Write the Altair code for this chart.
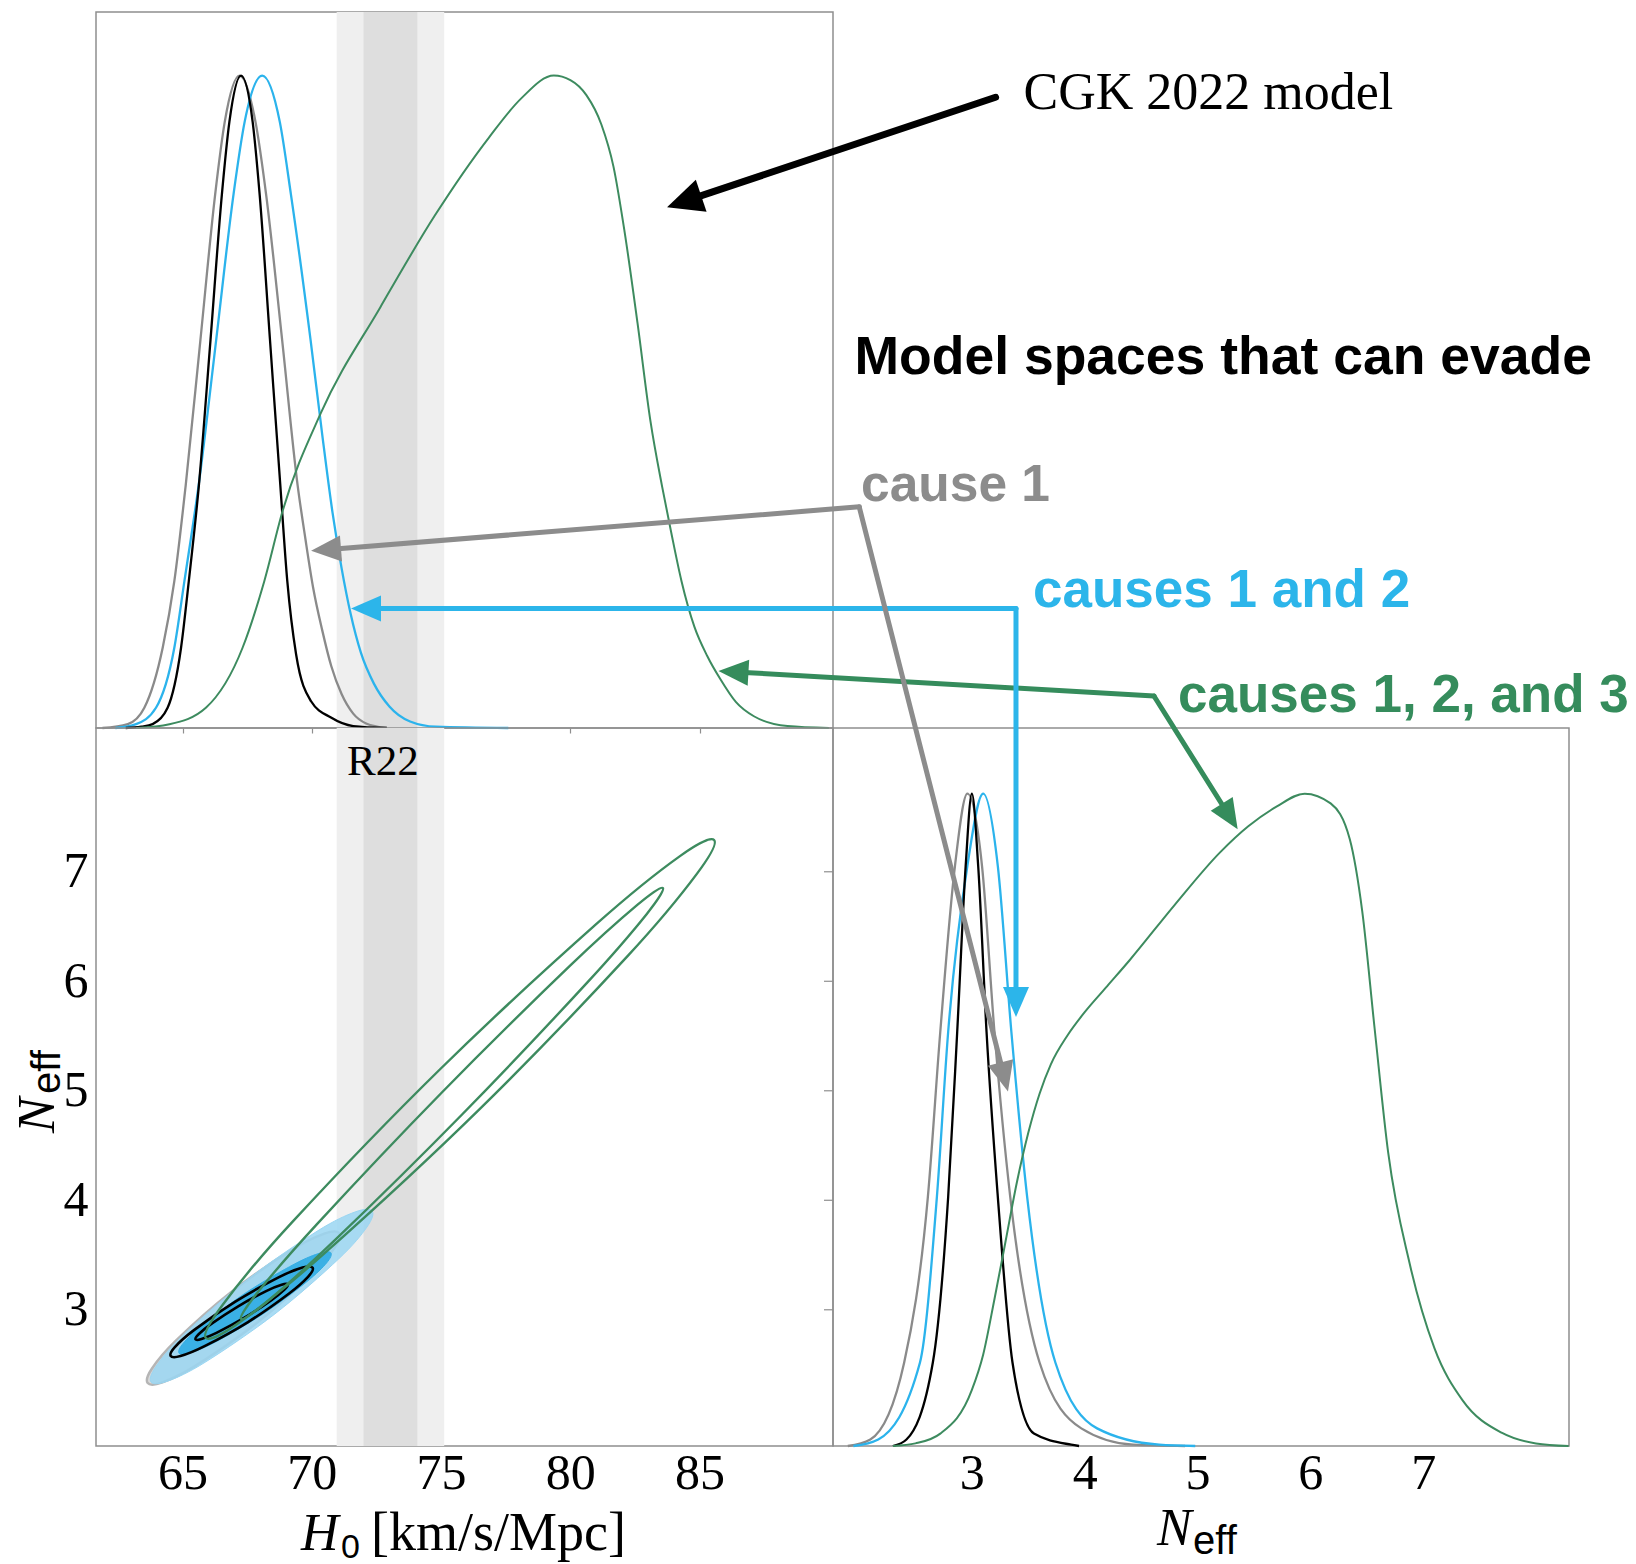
import math
import altair as alt
import pandas as pd

# ---------------- data ----------------
h0_ticks = [65, 70, 75, 80, 85]
neff_ticks = [3, 4, 5, 6, 7]
r22_outer = [70.96, 75.12]
r22_inner = [72.0, 74.08]
r22_label_h0 = 72.75

# 1D H0 posteriors (H0, relative density)
h0_gray_x = [61.9, 62.88, 63.52, 64.23, 64.68, 65.12, 65.69, 66.26, 66.63, 67.2, 67.82, 68.23, 68.85, 69.45, 69.75, 70.05, 70.4, 70.75, 71.15, 71.6, 72.1, 72.9]
h0_gray_y = [0.0, 0.006, 0.031, 0.123, 0.225, 0.372, 0.595, 0.818, 0.929, 1.0, 0.929, 0.818, 0.595, 0.372, 0.29, 0.215, 0.15, 0.095, 0.052, 0.022, 0.007, 0.0]
h0_blue_x = [62.4, 63.2, 63.97, 64.68, 65.07, 65.62, 66.3, 66.97, 67.4, 68.08, 68.76, 69.19, 69.95, 70.4, 70.8, 71.15, 71.5, 71.9, 72.4, 73.0, 73.8, 74.8, 77.6]
h0_blue_y = [0.0, 0.006, 0.031, 0.123, 0.225, 0.372, 0.595, 0.818, 0.929, 1.0, 0.929, 0.818, 0.595, 0.45, 0.33, 0.245, 0.175, 0.115, 0.068, 0.033, 0.01, 0.002, 0.0]
h0_black_x = [62.8, 63.4, 63.84, 64.42, 64.94, 65.24, 65.63, 66.08, 66.52, 66.81, 67.26, 67.71, 67.98, 68.38, 68.78, 69.05, 69.39, 69.97, 70.74, 71.6, 72.9]
h0_black_y = [0.0, 0.002, 0.006, 0.031, 0.123, 0.225, 0.372, 0.595, 0.818, 0.929, 1.0, 0.929, 0.818, 0.595, 0.372, 0.225, 0.113, 0.041, 0.016, 0.003, 0.0]
h0_green_x = [63.2, 64.49, 65.9, 67.32, 68.16, 68.88, 70.35, 72.65, 74.75, 76.85, 78.1, 79.36, 80.0, 80.62, 81.2, 81.67, 82.1, 82.6, 83.1, 83.55, 83.9, 84.3, 84.8, 85.3, 85.8, 86.4, 87.1, 88.4, 90.0]
h0_green_y = [0.0, 0.0057, 0.031, 0.123, 0.225, 0.334, 0.483, 0.645, 0.785, 0.905, 0.965, 1.0, 0.993, 0.97, 0.925, 0.86, 0.76, 0.62, 0.47, 0.37, 0.3, 0.225, 0.155, 0.11, 0.075, 0.04, 0.018, 0.003, 0.0]

# 1D Neff posteriors (Neff, relative density)
neff_gray_x = [1.9, 2.1, 2.40, 2.61, 2.72, 2.85, 2.96, 3.09, 3.2, 3.34, 3.6, 3.97, 4.43, 4.89]
neff_gray_y = [0.0, 0.01, 0.128, 0.382, 0.635, 0.889, 1.0, 0.889, 0.635, 0.382, 0.128, 0.027, 0.002, 0.0]
neff_blue_x = [1.95, 2.17, 2.54, 2.69, 2.79, 2.96, 3.10, 3.23, 3.35, 3.49, 3.74, 4.11, 4.66, 4.98]
neff_blue_y = [0.0, 0.01, 0.128, 0.382, 0.635, 0.889, 1.0, 0.889, 0.635, 0.382, 0.128, 0.027, 0.002, 0.0]
neff_black_x = [2.3, 2.42, 2.654, 2.79, 2.87, 2.945, 3.0, 3.056, 3.13, 3.23, 3.36, 3.55, 3.88, 3.95]
neff_black_y = [0.0, 0.01, 0.128, 0.382, 0.635, 0.889, 1.0, 0.889, 0.635, 0.382, 0.128, 0.019, 0.002, 0.0]
neff_green_x = [2.3, 2.5, 2.72, 3.0, 3.1, 3.2, 3.3, 3.4, 3.5, 3.6, 3.7, 3.85, 4.0, 4.2, 4.4, 4.8, 5.2, 5.45, 5.7, 5.95, 6.18, 6.35, 6.46, 6.57, 6.69, 6.88, 7.1, 7.35, 7.7, 8.0, 8.29]
neff_green_y = [0.0, 0.004, 0.019, 0.086, 0.14, 0.225, 0.315, 0.405, 0.48, 0.54, 0.585, 0.63, 0.665, 0.705, 0.745, 0.83, 0.91, 0.95, 0.98, 1.0, 0.985, 0.93, 0.82, 0.64, 0.45, 0.28, 0.15, 0.07, 0.02, 0.004, 0.0]

# 2D contours (H0, Neff) traced around each closed curve
gray95_h = [63.65, 63.81, 64.75, 66.87, 69.19, 70.48, 71.05, 70.89, 69.95, 67.83, 65.51, 64.22]
gray95_n = [2.331, 2.462, 2.720, 3.160, 3.542, 3.695, 3.701, 3.570, 3.312, 2.872, 2.490, 2.337]
blue95_h = [63.78, 63.98, 65.07, 67.53, 70.20, 71.67, 72.33, 72.13, 71.03, 68.57, 65.90, 64.43]
blue95_n = [2.340, 2.487, 2.779, 3.280, 3.717, 3.893, 3.902, 3.755, 3.463, 2.962, 2.525, 2.349]
blue68_h = [64.86, 65.03, 65.81, 67.51, 69.33, 70.32, 70.74, 70.57, 69.79, 68.09, 66.27, 65.28]
blue68_n = [2.605, 2.696, 2.870, 3.165, 3.418, 3.518, 3.519, 3.428, 3.254, 2.959, 2.706, 2.606]
black95_h = [64.54, 64.70, 65.44, 67.04, 68.73, 69.64, 70.03, 69.86, 69.12, 67.53, 65.83, 64.92]
black95_n = [2.578, 2.659, 2.814, 3.074, 3.298, 3.385, 3.384, 3.303, 3.149, 2.888, 2.665, 2.577]
black68_h = [65.50, 65.62, 66.11, 67.15, 68.25, 68.83, 69.07, 68.94, 68.45, 67.41, 66.31, 65.73]
black68_n = [2.730, 2.777, 2.871, 3.032, 3.173, 3.229, 3.232, 3.185, 3.091, 2.930, 2.789, 2.733]
green95_h = [65.90, 66.56, 69.23, 74.97, 81.02, 84.24, 85.56, 84.90, 82.23, 76.49, 70.44, 67.22]
green95_n = [2.742, 3.049, 3.798, 5.199, 6.526, 7.143, 7.290, 6.983, 6.234, 4.833, 3.506, 2.889]
green68_h = [67.26, 67.89, 70.19, 75.01, 79.99, 82.59, 83.58, 82.95, 80.65, 75.83, 70.85, 68.25]
green68_n = [2.916, 3.155, 3.780, 4.980, 6.142, 6.697, 6.852, 6.613, 5.988, 4.788, 3.626, 3.071]

# annotation arrows: (start, tip) in the data units of the panel they point into
arrows_top = {
    "black": ((96.45, 0.9667), (83.74, 0.7983)),
    "gray": ((91.18, 0.339), (69.97, 0.2715)),
    "blue": ((97.24, 0.1833), (71.515, 0.1833)),
    "green": ((102.58, 0.0491), (85.73, 0.0874)),
}
arrows_right = {
    "gray": ((2.0018, 1.4393), (3.32, 0.5434)),
    "blue": ((3.391, 1.2837), (3.391, 0.6576)),
    "green": ((4.614, 1.1496), (5.356, 0.9453)),
}

# ---------------- styling ----------------
C_GRAY, C_BLUE, C_BLACK, C_GREEN = "#8a8a8a", "#2bb3ec", "#000000", "#3d8b5f"
A_GRAY, A_BLUE, A_GREEN = "#8c8c8c", "#2cb5ea", "#358c5c"
SERIF, SANS = "Liberation Serif", "Liberation Sans"
BORDER = "#8f8f8f"

W_L, W_R = 737, 736
H_T, H_B = 716, 718
H0_DOM = [61.65, 90.16]
NY_DOM = [1.756, 8.313]
NX_DOM = [1.769, 8.293]
DT_DOM = [0, 1.0974]
DB_DOM = [0, 1.1006]


def sc(dom):
    return alt.Scale(domain=dom, nice=False, zero=False)


AX_NONE_KW = dict(grid=False, title=None)

TL_X = lambda: alt.X("x:Q", scale=sc(H0_DOM), axis=alt.Axis(values=h0_ticks, labels=False, ticks=True, tickSize=5,
                                                           tickColor=BORDER, tickWidth=1.2, domain=False, **AX_NONE_KW))
TL_Y = lambda: alt.Y("y:Q", scale=sc(DT_DOM), axis=None)
LAB = dict(labelFont=SERIF, labelFontSize=50, labelColor="black", ticks=False, domain=False, format="d", **AX_NONE_KW)
BL_X = lambda: alt.X("x:Q", scale=sc(H0_DOM), axis=alt.Axis(values=h0_ticks, labelPadding=2, **LAB))
BL_Y = lambda: alt.Y("y:Q", scale=sc(NY_DOM), axis=alt.Axis(values=neff_ticks, labelPadding=8, **LAB))
BR_X = lambda: alt.X("x:Q", scale=sc(NX_DOM), axis=alt.Axis(values=neff_ticks, labelPadding=2, **LAB))
BR_Y = lambda: alt.Y("y:Q", scale=sc(DB_DOM), axis=None)

one = pd.DataFrame({"a": [0]})


def curve(xs, ys, color, X, Y, sw=2.3):
    df = pd.DataFrame({"x": xs, "y": ys})
    return alt.Chart(df).mark_line(color=color, strokeWidth=sw, interpolate="monotone").encode(x=X(), y=Y())


HEAD = "M0,0L0.433,1L-0.433,1Z"
HEAD_K = "M0,0L0.47,1L-0.47,1Z"


def arrow(p0, p1, color, sw, head_len, head_path, X, Y, xdom, ydom, W, H):
    sx = W / (xdom[1] - xdom[0])
    sy = H / (ydom[1] - ydom[0])
    dx = (p1[0] - p0[0]) * sx
    dy = -(p1[1] - p0[1]) * sy
    L = math.hypot(dx, dy)
    ang = math.degrees(math.atan2(dx, -dy)) % 360
    f = max(0.0, (L - 0.7 * head_len) / L)
    pe = (p0[0] + (p1[0] - p0[0]) * f, p0[1] + (p1[1] - p0[1]) * f)
    line = alt.Chart(pd.DataFrame({"x": [p0[0], pe[0]], "y": [p0[1], pe[1]], "o": [0, 1]})).mark_line(
        color=color, strokeWidth=sw, strokeCap="round").encode(x=X(), y=Y(), order="o:Q")
    head = alt.Chart(pd.DataFrame({"x": [p1[0]], "y": [p1[1]], "a": [ang]})).mark_point(
        shape=head_path, size=(2 * head_len) ** 2, filled=True, fill=color, opacity=1, fillOpacity=1,
        strokeWidth=0).encode(x=X(), y=Y(), angle=alt.Angle("a:Q", scale=None))
    return [line, head]


def bands(X, H):
    df = pd.DataFrame({"x": [r22_outer[0], r22_inner[0]], "x2": [r22_outer[1], r22_inner[1]],
                       "c": ["#efefef", "#dedede"]})
    return alt.Chart(df).mark_rect().encode(x=X(), x2="x2:Q", y=alt.value(0), y2=alt.value(H),
                                            color=alt.Color("c:N", scale=None))


def contour(hs, ns, stroke, sw, fill=None, fo=1.0, so=1.0):
    df = pd.DataFrame({"x": hs, "y": ns, "o": list(range(len(hs)))})
    kw = dict(interpolate="cardinal-closed", stroke=stroke, strokeWidth=sw, strokeOpacity=so)
    if fill:
        kw.update(fill=fill, fillOpacity=fo)
    return alt.Chart(df).mark_line(**kw).encode(x=BL_X(), y=BL_Y(), order="o:Q")


def label(text, x, y, font, size, color="black", weight="normal", style="normal", angle=0):
    kw = dict(text=text, font=font, fontSize=size, color=color, fontWeight=weight, fontStyle=style,
              align="left", baseline="alphabetic")
    if angle:
        kw["angle"] = angle
    return alt.Chart(one).mark_text(**kw).encode(x=alt.value(x), y=alt.value(y))


# ---------------- top-left: H0 1D ----------------
tl_layers = [bands(TL_X, H_T),
             curve(h0_gray_x, h0_gray_y, C_GRAY, TL_X, TL_Y),
             curve(h0_blue_x, h0_blue_y, C_BLUE, TL_X, TL_Y),
             curve(h0_black_x, h0_black_y, C_BLACK, TL_X, TL_Y),
             curve(h0_green_x, h0_green_y, C_GREEN, TL_X, TL_Y, sw=2.0)]
for key, col, sw, hl, hp in [("gray", A_GRAY, 5, 30, HEAD), ("blue", A_BLUE, 5, 30, HEAD),
                             ("green", A_GREEN, 5, 30, HEAD), ("black", "#000000", 7, 36, HEAD_K)]:
    p0, p1 = arrows_top[key]
    tl_layers += arrow(p0, p1, col, sw, hl, hp, TL_X, TL_Y, H0_DOM, DT_DOM, W_L, H_T)
tl = alt.layer(*tl_layers).properties(width=W_L, height=H_T)

# ---------------- top-right: annotation text ----------------
tr = alt.layer(
    label("CGK 2022 model", 190.5, 96.5, SERIF, 52),
    label("Model spaces that can evade", 21.5, 361.5, SANS, 53.5, weight="bold"),
    label("cause 1", 28, 489, SANS, 51.5, color=A_GRAY, weight="bold"),
    label("causes 1 and 2", 200, 595, SANS, 53, color=A_BLUE, weight="bold"),
    label("causes 1, 2, and 3", 345, 699.5, SANS, 53, color=A_GREEN, weight="bold"),
).properties(width=W_R, height=H_T, view=alt.ViewBackground(stroke="transparent"))

# ---------------- bottom-left: 2D contours ----------------
tick_df = pd.DataFrame({"y": neff_ticks})
bl = alt.layer(
    bands(BL_X, H_B),
    contour(gray95_h, gray95_n, "#b5b5b5", 2.5, fill="#d6d6d6", fo=0.9),
    contour(blue95_h, blue95_n, "#9ad6f2", 1.0, fill="#9ad6f2", fo=0.85),
    contour(blue68_h, blue68_n, "#35aee4", 1.0, fill="#35aee4", fo=0.95),
    contour(black95_h, black95_n, "#000000", 2.6),
    contour(black68_h, black68_n, "#000000", 2.6),
    contour(green95_h, green95_n, C_GREEN, 2.4),
    contour(green68_h, green68_n, C_GREEN, 2.4),
    alt.Chart(tick_df).mark_rule(color=BORDER, strokeWidth=1.2).encode(y=BL_Y(), x=alt.value(W_L - 9), x2=alt.value(W_L)),
    alt.Chart(pd.DataFrame({"x": [r22_label_h0]})).mark_text(
        text="R22", font=SERIF, fontSize=43, color="black", align="center", baseline="alphabetic").encode(
        x=BL_X(), y=alt.value(47)),
    label("H", 205, 822, SERIF, 52, style="italic"),
    label("0", 245, 830, SANS, 34),
    label("[km/s/Mpc]", 275, 822, SERIF, 54),
    label("N", -42, 405, SERIF, 53, style="italic", angle=270),
    label("eff", -36, 366, SANS, 40, angle=270),
    alt.Chart(one).mark_rule(strokeOpacity=0, strokeWidth=1).encode(x=alt.value(-95), x2=alt.value(-94),
                                                                       y=alt.value(0), y2=alt.value(1)),
).properties(width=W_L, height=H_B)

# ---------------- bottom-right: Neff 1D ----------------
br_layers = [curve(neff_gray_x, neff_gray_y, C_GRAY, BR_X, BR_Y),
             curve(neff_blue_x, neff_blue_y, C_BLUE, BR_X, BR_Y),
             curve(neff_black_x, neff_black_y, C_BLACK, BR_X, BR_Y),
             curve(neff_green_x, neff_green_y, C_GREEN, BR_X, BR_Y, sw=2.0)]
for key, col in [("gray", A_GRAY), ("blue", A_BLUE), ("green", A_GREEN)]:
    p0, p1 = arrows_right[key]
    br_layers += arrow(p0, p1, col, 5, 30, HEAD, BR_X, BR_Y, NX_DOM, DB_DOM, W_R, H_B)
br_layers += [label("N", 324, 817, SERIF, 52, style="italic"), label("eff", 360, 826, SANS, 40)]
br = alt.layer(*br_layers).properties(width=W_R, height=H_B)

chart = alt.concat(tl, tr, bl, br, columns=2, spacing=0, bounds="flush").properties(
    padding={"left": 0, "top": 11, "right": 0, "bottom": 0},
).configure(background="white").configure_view(stroke=BORDER, strokeWidth=1.5).configure_axis(grid=False)

chart.save("out.html", embed_options={"renderer": "svg", "actions": False})
